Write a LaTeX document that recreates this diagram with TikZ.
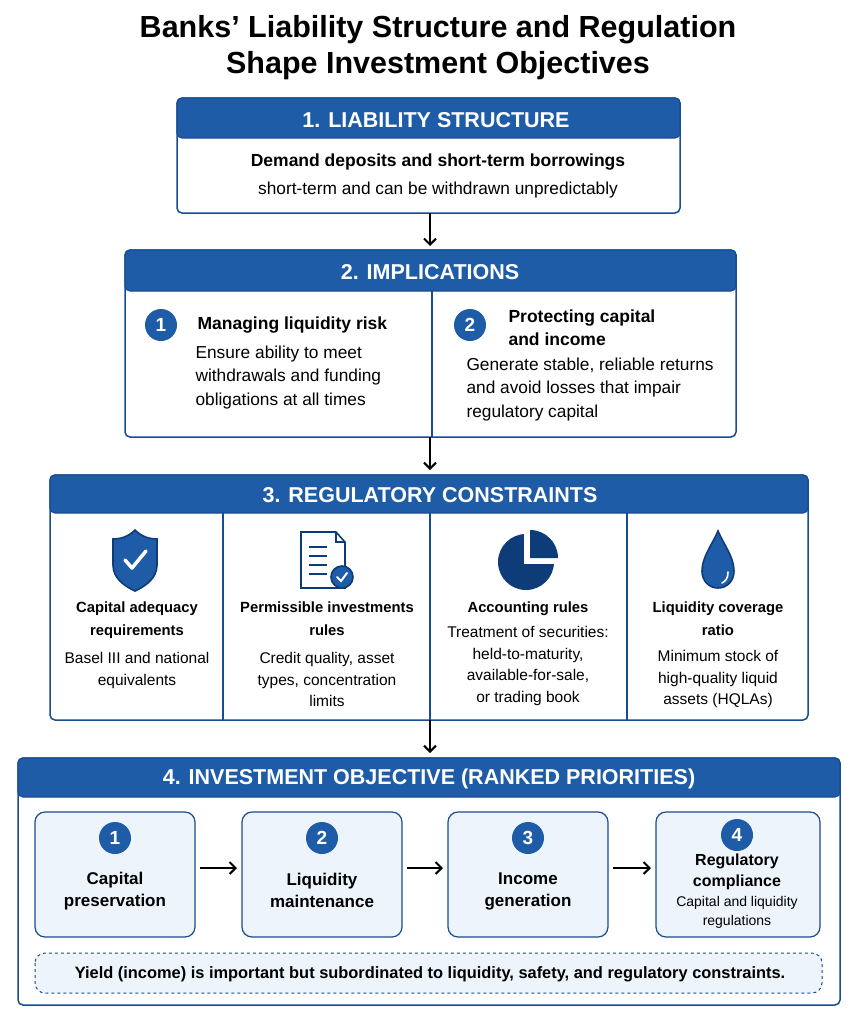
\documentclass[tikz,border=0pt]{standalone}
\usepackage{fontspec}
\setmainfont{Liberation Sans}
\usetikzlibrary{arrows.meta}
\begin{document}
\begin{tikzpicture}[x=1pt,y=-1pt,
  hdr/.style={fill=hblue,draw=bblue,line width=1.2pt},
  box/.style={draw=bblue,line width=1.5pt,rounded corners=5pt,fill=white},
  htxt/.style={text=white,font=\bfseries\fontsize{21.5}{24}\selectfont},
  ttl/.style={font=\bfseries\fontsize{17.5}{23}\selectfont,align=center},
  txt/.style={font=\fontsize{17.3}{23.5}\selectfont,align=center},
  stxt/.style={font=\fontsize{15.5}{21.5}\selectfont,align=center},
  ttl3/.style={font=\bfseries\fontsize{14.8}{23}\selectfont,align=center},
  num/.style={circle,fill=hblue,text=white,minimum size=32pt,inner sep=0pt,font=\bfseries\fontsize{19}{19}\selectfont},
  sub/.style={draw=bblue,line width=1.2pt,rounded corners=10pt,fill=subfill},
  arr/.style={-{Straight Barb[length=6pt,width=12pt,line width=2pt]},line width=2pt,black},
  ]
\definecolor{hblue}{HTML}{1F5CA8}
\definecolor{bblue}{HTML}{1A4C92}
\definecolor{navy}{HTML}{0E3C78}
\definecolor{subfill}{HTML}{EEF4FC}
\useasboundingbox (0,0) rectangle (858,1023);
\fill[white] (0,0) rectangle (858,1023);
% title
\node[font=\bfseries\fontsize{30.5}{36}\selectfont,align=center] (title) at (438,48) {Banks’ Liability Structure and Regulation\\Shape Investment Objectives};
% box 1
\draw[box] (177,98) rectangle (680,213);
\path[hdr,rounded corners=5pt] (177,98) rectangle (680,138);
\node[htxt] (h1) at (436,120) {1. LIABILITY STRUCTURE};
\node[ttl] (b1a) at (438,162) {Demand deposits and short-term borrowings};
\node[txt] (b1b) at (438,190) {short-term and can be withdrawn unpredictably};
\coordinate (b1) at (430,213);
% box 2
\draw[box] (125,250) rectangle (736,437);
\path[hdr,rounded corners=5pt] (125,250) rectangle (736,291);
\node[htxt] (h2) at (430,272) {2. IMPLICATIONS};
\draw[bblue,line width=1.2pt] (432,291) -- (432,437);
\node[num] (n21) at (161,325) {1};
\node[ttl,anchor=west] (t21) at (194,325) {Managing liquidity risk};
\node[txt,anchor=north west,align=left] (d21) at (192,342) {Ensure ability to meet\\withdrawals and funding\\obligations at all times};
\node[num] (n22) at (470,325) {2};
\node[ttl,anchor=west,align=left] (t22) at (505,328) {Protecting capital\\and income};
\node[txt,anchor=north west,align=left] (d22) at (463,354) {Generate stable, reliable returns\\and avoid losses that impair\\regulatory capital};
\draw[arr] (b1) -- (430,246);
% box 3
\draw[box] (50,475) rectangle (808,720);
\path[hdr,rounded corners=5pt] (50,475) rectangle (808,513);
\node[htxt] (h3) at (430,495) {3. REGULATORY CONSTRAINTS};
\foreach \x in {223,430,627} \draw[bblue,line width=1.2pt] (\x,513) -- (\x,720);
\draw[arr] (430,437) -- (430,470);
% icons
\draw[navy,line width=1.6pt,fill=hblue] (135,530) .. controls (128,537) and (120,539) .. (113,539) -- (113,565) .. controls (113,578) and (124,586) .. (135,591) .. controls (146,586) and (157,578) .. (157,565) -- (157,539) .. controls (150,539) and (142,537) .. (135,530) -- cycle;
\draw[white,line width=3.5pt,line cap=round,line join=round] (125,560) -- (132,568) -- (146,551);
\draw[navy,line width=1.6pt,fill=white] (301,532) -- (336,532) -- (345,542) -- (345,588) -- (301,588) -- cycle;
\draw[navy,line width=1.4pt] (336,532) -- (336,542) -- (345,542);
\foreach \y in {547,556,565,574} \draw[navy,line width=2pt] (309,\y) -- (327,\y);
\draw[navy,line width=1.6pt,fill=hblue] (342,577) circle (11);
\draw[white,line width=2pt,line cap=round] (337,577) -- (341,581) -- (347,573);
\fill[navy] (526,562) circle (28);
\fill[white] (524,530) rectangle (560,564);
\fill[navy] (530,558) -- (530,530) arc[start angle=-90,end angle=0,radius=28] -- cycle;
\draw[navy,line width=1.6pt,fill=hblue] (718,531) .. controls (712,545) and (702,557) .. (702,571) .. controls (702,581) and (709,588) .. (718,588) .. controls (727,588) and (734,581) .. (734,571) .. controls (734,557) and (724,545) .. (718,531) -- cycle;
\draw[white,line width=1.6pt,line cap=round] (728,572) .. controls (728,578) and (726,581) .. (722,583);
% column texts
\node[ttl3,anchor=north] (t31) at (137,598) {Capital adequacy\\requirements};
\node[stxt,anchor=north] (d31) at (137,649) {Basel III and national\\equivalents};
\node[ttl3,anchor=north] (t32) at (327,598) {Permissible investments\\rules};
\node[stxt,anchor=north] (d32) at (327,649) {Credit quality, asset\\types, concentration\\limits};
\node[ttl3,anchor=north] (t33) at (528,598) {Accounting rules};
\node[stxt,anchor=north] (d33) at (528,623) {Treatment of securities:\\held-to-maturity,\\available-for-sale,\\or trading book};
\node[ttl3,anchor=north] (t34) at (718,598) {Liquidity coverage\\ratio};
\node[stxt,anchor=north] (d34) at (718,647) {Minimum stock of\\high-quality liquid\\assets (HQLAs)};
% box 4
\draw[box] (18,758) rectangle (840,1005);
\path[hdr,rounded corners=5pt] (18,758) rectangle (840,797);
\node[htxt] (h4) at (429,779) {4. INVESTMENT OBJECTIVE (RANKED PRIORITIES)};
\draw[arr] (430,720) -- (430,753);
\draw[sub] (35,812) rectangle (195,937); \node (s1) at (115,875) {};
\draw[sub] (242,812) rectangle (402,937); \node (s2) at (322,875) {};
\draw[sub] (448,812) rectangle (608,937); \node (s3) at (528,875) {};
\draw[sub] (656,812) rectangle (820,937); \node (s4) at (738,875) {};
\node[num] at (115,838) {1};
\node[num] at (322,838) {2};
\node[num] at (528,838) {3};
\node[num] at (737,835) {4};
\node[ttl,font=\bfseries\fontsize{17}{22}\selectfont] at (115,891) {Capital\\preservation};
\node[ttl,font=\bfseries\fontsize{17}{22}\selectfont] at (322,890) {Liquidity\\maintenance};
\node[ttl,font=\bfseries\fontsize{17}{22}\selectfont] at (528,891) {Income\\generation};
\node[ttl,font=\bfseries\fontsize{16}{21}\selectfont] at (737,872) {Regulatory\\compliance};
\node[stxt,font=\fontsize{14}{19}\selectfont] at (737,912) {Capital and liquidity\\regulations};
\draw[arr] (200,868) -- (237,868);
\draw[arr] (407,868) -- (443,868);
\draw[arr] (613,868) -- (651,868);
\draw[bblue,line width=1pt,dashed,rounded corners=10pt,fill=subfill] (35,953) rectangle (822,993);
\node[font=\bfseries\fontsize{16.4}{19}\selectfont] (note) at (430,974) {Yield (income) is important but subordinated to liquidity, safety, and regulatory constraints.};
\end{tikzpicture}
\end{document}
